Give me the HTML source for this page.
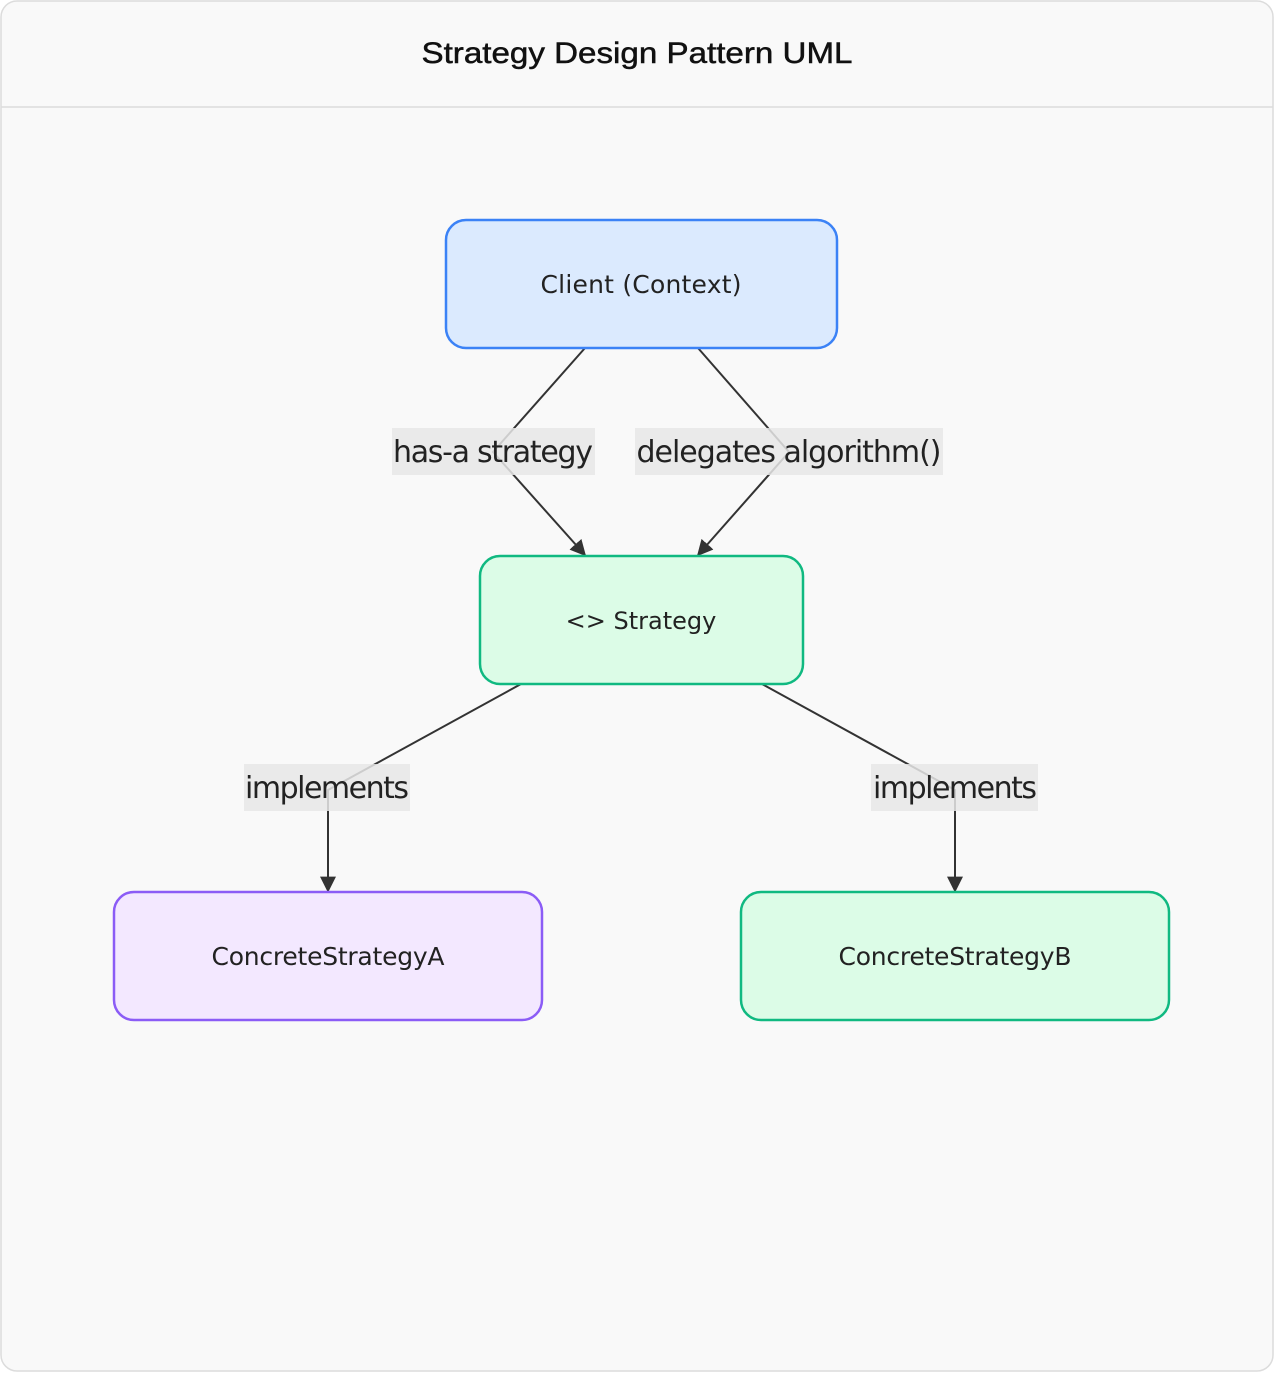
<!DOCTYPE html>
<html><head><style>
html,body{margin:0;padding:0;background:#fff;}
svg{display:block;}
text{font-family:"DejaVu Sans","Liberation Sans",sans-serif;fill:#222;}
</style></head><body>
<svg width="1275" height="1373" viewBox="0 0 1275 1373" xmlns="http://www.w3.org/2000/svg">
<defs>
<marker id="a2" viewBox="0 0 10 10" refX="9" refY="5" markerWidth="16" markerHeight="16" orient="auto" markerUnits="userSpaceOnUse">
<path d="M0,0 L10,5 L0,10 z" fill="#333"/>
</marker>
</defs>
<rect x="1" y="1" width="1272" height="1370" rx="16" fill="#f9f9f9" stroke="#dcdcdc" stroke-width="1.5"/>
<line x1="1" y1="107" x2="1273" y2="107" stroke="#dcdcdc" stroke-width="1.5"/>
<text x="637" y="63" text-anchor="middle" style="font-family:'Liberation Sans',sans-serif;fill:#111" font-size="30" stroke="#111" stroke-width="0.5" textLength="431" lengthAdjust="spacingAndGlyphs">Strategy Design Pattern UML</text>

<g stroke="#333" stroke-width="2" fill="none">
<polyline points="585,348 493,452 585,555" marker-end="url(#a2)"/>
<polyline points="698,348 789,452 698,555" marker-end="url(#a2)"/>
<polyline points="521,684 328,790 328,891" marker-end="url(#a2)"/>
<polyline points="762,684 955,790 955,891" marker-end="url(#a2)"/>
</g>

<g fill="#e8e8e8" fill-opacity="0.85">
<rect x="392" y="428" width="203" height="47"/>
<rect x="635" y="428" width="308" height="47"/>
<rect x="244" y="764" width="166" height="47"/>
<rect x="871" y="764" width="167" height="47"/>
</g>
<g font-size="30">
<text x="493" y="462" text-anchor="middle" textLength="200">has-a strategy</text>
<text x="789" y="462" text-anchor="middle" textLength="305">delegates algorithm()</text>
<text x="327" y="798" text-anchor="middle" textLength="164">implements</text>
<text x="955" y="798" text-anchor="middle" textLength="164">implements</text>
</g>

<rect x="446" y="220" width="391" height="128" rx="20" fill="#dbeafe" stroke="#3b82f6" stroke-width="2.5"/>
<rect x="480" y="556" width="323" height="128" rx="20" fill="#dcfce7" stroke="#10b981" stroke-width="2.5"/>
<rect x="114" y="892" width="428" height="128" rx="20" fill="#f3e8ff" stroke="#8b5cf6" stroke-width="2.5"/>
<rect x="741" y="892" width="428" height="128" rx="20" fill="#dcfce7" stroke="#10b981" stroke-width="2.5"/>
<g font-size="25" text-anchor="middle">
<text x="641" y="293" textLength="201">Client (Context)</text>
<text x="641" y="629" font-size="24">&lt;&gt; Strategy</text>
<text x="328" y="965" textLength="233">ConcreteStrategyA</text>
<text x="955" y="965" textLength="233">ConcreteStrategyB</text>
</g>
</svg>
</body></html>
